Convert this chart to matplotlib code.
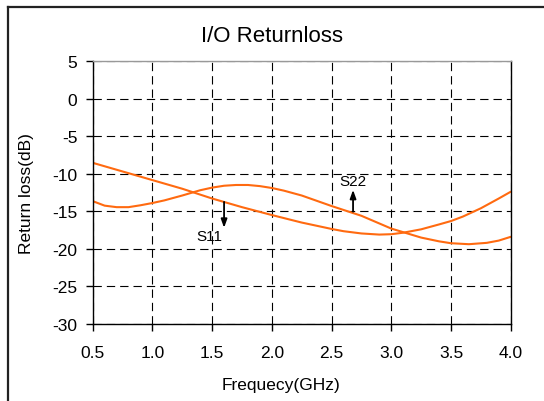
import matplotlib
matplotlib.use("Agg")
import matplotlib.pyplot as plt
from matplotlib.lines import Line2D

plt.rcParams['font.family'] = ['Liberation Sans', 'DejaVu Sans']
plt.rcParams['axes.unicode_minus'] = False

# ---- data ----
freq_s11 = [0.5, 0.75, 1.0, 1.25, 1.5, 1.75, 2.0, 2.25, 2.5, 2.6, 2.75, 2.9, 3.0, 3.1, 3.25, 3.4, 3.5, 3.6, 3.75, 3.9, 4.0]
s11 = [-8.55, -9.7, -10.85, -12.0, -13.3, -14.45, -15.5, -16.5, -17.35, -17.65, -17.95, -18.1, -18.05, -17.85, -17.4, -16.75, -16.3, -15.7, -14.6, -13.3, -12.4]

freq_s22 = [0.5, 0.6, 0.7, 0.8, 0.9, 1.0, 1.1, 1.25, 1.4, 1.5, 1.6, 1.7, 1.8, 1.9, 2.0, 2.1, 2.25, 2.5, 2.75, 3.0, 3.25, 3.4, 3.5, 3.65, 3.8, 3.9, 4.0]
s22 = [-13.65, -14.25, -14.45, -14.45, -14.2, -13.9, -13.55, -12.9, -12.2, -11.85, -11.6, -11.5, -11.5, -11.65, -11.9, -12.25, -12.9, -14.3, -15.6, -17.3, -18.5, -19.0, -19.25, -19.38, -19.2, -18.9, -18.4]

x_ticks = [0.5, 1.0, 1.5, 2.0, 2.5, 3.0, 3.5, 4.0]
x_ticklabels = ['0.5', '1.0', '1.5', '2.0', '2.5', '3.0', '3.5', '4.0']
y_ticks = [5, 0, -5, -10, -15, -20, -25, -30]

title = 'I/O Returnloss'
xlabel = 'Frequecy(GHz)'
ylabel = 'Return loss(dB)'

# annotations: (label, x, arrow start, arrow end, text x, text y)
ann_s11 = ('S11', 1.6, -13.75, -17.2, 1.48, -18.25)
ann_s22 = ('S22', 2.68, -15.05, -12.15, 2.68, -10.95)

W, H = 544, 402
fig = plt.figure(figsize=(W / 100, H / 100), dpi=100)

# outer frame (top and left edges)
fig.add_artist(Line2D([7.5 / W, 543 / W], [1 - 8 / H, 1 - 8 / H], color='#222222', lw=1.6))
fig.add_artist(Line2D([7.5 / W, 7.5 / W], [0, 1 - 8 / H], color='#222222', lw=1.6))

ax = fig.add_axes([92.7 / W, 1 - 325 / H, (510.7 - 92.7) / W, (325 - 62) / H])

ax.plot(freq_s11, s11, color='#ff6a10', lw=1.5, solid_capstyle='round', solid_joinstyle='round')
ax.plot(freq_s22, s22, color='#ff6a10', lw=1.5, solid_capstyle='round', solid_joinstyle='round')

ax.set_xlim(0.5, 4.0)
ax.set_ylim(-30, 5)
ax.set_xticks(x_ticks)
ax.set_xticklabels(x_ticklabels)
ax.set_yticks(y_ticks)

ax.grid(True, color='black', lw=0.8, linestyle=(0, (7.5, 4.5)))
ax.set_axisbelow(True)

for s in ['left', 'bottom', 'right']:
    ax.spines[s].set_color('black')
    ax.spines[s].set_linewidth(1.0)
ax.spines['top'].set_color('#999999')
ax.spines['top'].set_linewidth(1.0)

ax.tick_params(axis='both', direction='out', length=5, width=1.0, labelsize=12.5, colors='black')
ax.tick_params(axis='y', pad=6)
ax.tick_params(axis='x', pad=10)

for lab, x, y0, y1, tx, ty in [ann_s11, ann_s22]:
    ax.annotate('', xy=(x, y1), xytext=(x, y0),
                arrowprops=dict(arrowstyle='-|>,head_length=0.5,head_width=0.18',
                                color='black', lw=1.3, shrinkA=0, shrinkB=0))
    ax.text(tx, ty, lab, ha='center', va='center', fontsize=11)

fig.text(272 / W, 1 - 37 / H, title, ha='center', va='center', fontsize=16)
fig.text(281 / W, 1 - 386 / H, xlabel, ha='center', va='center', fontsize=12.5)
fig.text(26 / W, 1 - 193.5 / H, ylabel, ha='center', va='center', fontsize=12.5, rotation=90)

fig.savefig('out.png', dpi=100)
